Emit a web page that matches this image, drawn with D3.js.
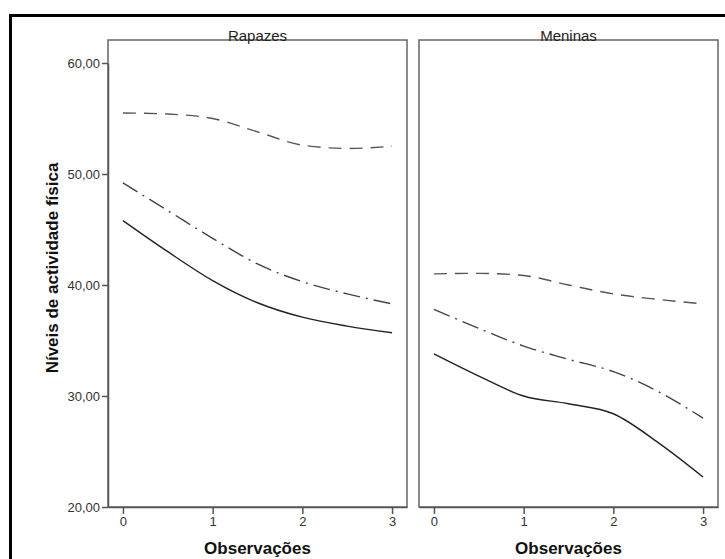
<!DOCTYPE html>
<html>

<head>
    <meta charset="utf-8" />
    <title>Níveis de actividade física</title>
    <script src="https://cdn.jsdelivr.net/npm/d3@7/dist/d3.min.js" charset="utf-8"></script>

    <style type="text/css">
        body {
            margin: 0;
            background: #fff;
        }

        #chart svg {
            font-family: "Liberation Sans", Arial, sans-serif;
        }

        #chart .frame {
            fill: none;
            stroke: #000;
            stroke-width: 3px;
        }

        #chart .panel {
            fill: none;
            stroke: #666;
            stroke-width: 1.5px;
        }

        #chart .line {
            fill: none;
            stroke-width: 1.4px;
        }

        #chart .axis path,
        #chart .axis line {
            stroke: #555;
            stroke-width: 1.5px;
        }

        #chart .axis text {
            fill: #333;
            font-size: 13px;
        }
    </style>
</head>

<body>

    <div id="chart"></div>

    <script>
        // Data:
        var observations = [0, 0.5, 1, 1.5, 2, 2.5, 3]
        var panels = ["Rapazes", "Meninas"]
        var yTicks = [20, 30, 40, 50, 60]
        var xTicks = [0, 1, 2, 3]

        var rapazesSolid = [45.8, 43.0, 40.4, 38.4, 37.1, 36.3, 35.7]
        var rapazesDashDot = [49.2, 46.7, 44.2, 41.9, 40.3, 39.2, 38.3]
        var rapazesDashed = [55.5, 55.4, 55.0, 53.8, 52.6, 52.3, 52.5]

        var meninasSolid = [33.8, 31.8, 30.0, 29.3, 28.4, 25.8, 22.7]
        var meninasDashDot = [37.8, 36.1, 34.5, 33.3, 32.2, 30.4, 28.0]
        var meninasDashed = [41.0, 41.05, 40.85, 40.0, 39.2, 38.7, 38.3]

        var panelSeries = [
            [rapazesSolid, rapazesDashDot, rapazesDashed],
            [meninasSolid, meninasDashDot, meninasDashed]
        ]

        // Line styles (solid, dash-dot, dashed):
        var styles = [
            { dash: null, color: "#222" },
            { dash: "17,6,2,6", color: "#444" },
            { dash: "13,8", color: "#555" }
        ]

        // Layout:
        var totalWidth = 725,
            totalHeight = 559,
            panelTop = 40,
            panelBottom = 507,
            panelLeft = [108, 419],
            panelWidth = 299

        var svg = d3.select("#chart")
            .append("svg")
            .attr("width", totalWidth)
            .attr("height", totalHeight)

        // Outer frame:
        svg.append("rect")
            .attr("class", "frame")
            .attr("x", 10.5)
            .attr("y", 15.5)
            .attr("width", totalWidth + 20)
            .attr("height", totalHeight + 20)

        // Shared y scale:
        var yScale = d3.scaleLinear()
            .domain([20, 60])
            .range([panelBottom, 63])

        var dataLine = d3.line()
            .curve(d3.curveMonotoneX)

        panels.forEach(function(name, i) {
            var x0 = panelLeft[i]

            var xScale = d3.scaleLinear()
                .domain([-1 / 6, 3 + 1 / 6])
                .range([x0, x0 + panelWidth])

            var g = svg.append("g")

            // Panel box:
            g.append("rect")
                .attr("class", "panel")
                .attr("x", x0)
                .attr("y", panelTop)
                .attr("width", panelWidth)
                .attr("height", panelBottom - panelTop)

            // Lines:
            panelSeries[i].forEach(function(values, k) {
                var pts = observations.map(function(o, j) {
                    return [xScale(o), yScale(values[j])]
                })
                g.append("path")
                    .datum(pts)
                    .attr("class", "line")
                    .attr("d", dataLine)
                    .attr("stroke", styles[k].color)
                    .attr("stroke-dasharray", styles[k].dash)
            })

            // X axis:
            g.append("g")
                .attr("class", "axis")
                .attr("transform", "translate(0, " + panelBottom + ")")
                .call(d3.axisBottom(xScale)
                    .tickValues(xTicks)
                    .tickFormat(d3.format("d"))
                    .tickSize(7)
                    .tickSizeOuter(0)
                    .tickPadding(3))

            // Panel title:
            g.append("text")
                .attr("x", x0 + panelWidth / 2)
                .attr("y", panelTop + 1)
                .attr("text-anchor", "middle")
                .attr("font-size", "15px")
                .attr("fill", "#222")
                .text(name)

            // X axis title:
            g.append("text")
                .attr("x", x0 + panelWidth / 2)
                .attr("y", 554)
                .attr("text-anchor", "middle")
                .attr("font-size", "17px")
                .attr("font-weight", "bold")
                .attr("fill", "#111")
                .text("Observações")
        })

        // Y axis (left panel only):
        svg.append("g")
            .attr("class", "axis")
            .attr("transform", "translate(" + panelLeft[0] + ", 0)")
            .call(d3.axisLeft(yScale)
                .tickValues(yTicks)
                .tickSize(6)
                .tickSizeOuter(0)
                .tickPadding(2)
                .tickFormat(function(d) {
                    return d3.format(".2f")(d).replace(".", ",")
                }))

        svg.append("text")
            .attr("transform", "translate(58, 268) rotate(-90)")
            .attr("text-anchor", "middle")
            .attr("font-size", "17px")
            .attr("font-weight", "bold")
            .attr("fill", "#111")
            .text("Níveis de actividade física")
    </script>

</body>

</html>
